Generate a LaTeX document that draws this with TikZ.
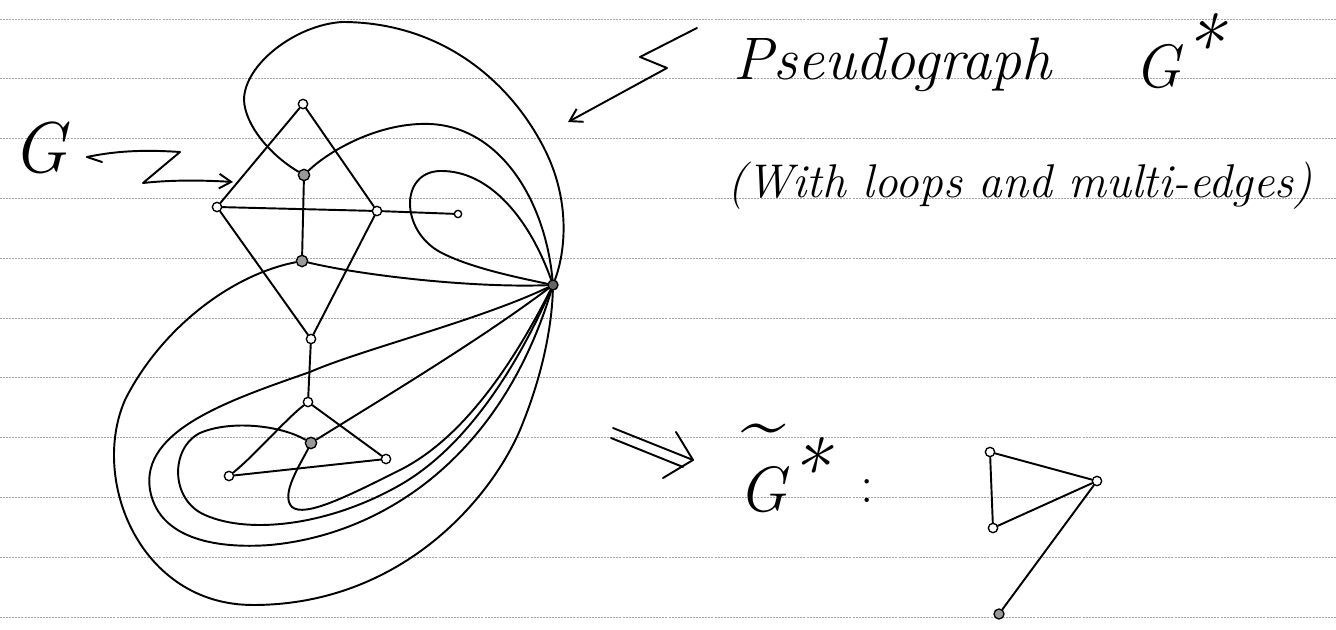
\documentclass[tikz,border=0pt]{standalone}
\usepackage{fontspec}
\usetikzlibrary{arrows.meta}

\tikzset{every picture/.style={line width=0.75pt}}
\tikzset{
  pen/.style={line width=1.45pt,line cap=round,line join=round},
  ruled/.style={color=black!35,line width=0.6pt,dash pattern=on 1.5pt off 0.8pt},
  vertex/.style={circle,draw,fill=white,line width=1pt,inner sep=0pt,minimum size=7pt},
  facevertex/.style={circle,draw,fill=black!40,line width=1pt,inner sep=0pt,minimum size=8.5pt},
  barb/.style={-{Straight Barb[length=9pt,width=11pt]}},
  handbig/.style={font=\fontsize{45}{50}\selectfont\itshape,inner sep=0pt,anchor=base west},
  handsmall/.style={font=\fontsize{35.5}{40}\selectfont\itshape,inner sep=0pt,anchor=base west},
  handletter/.style={inner sep=0pt,anchor=base west},
}
\newcommand{\handstar}{\raisebox{0.2em}{\fontsize{62}{62}\selectfont *}}

\begin{document}
\begin{tikzpicture}[x=0.75pt,y=0.75pt,yscale=-1,xscale=1]
\useasboundingbox (0,0) rectangle (1336,630);

%Ruled paper
\foreach \k in {0,...,10}
  \draw [ruled] (0,{19+59.8*\k}) -- (1336,{19+59.8*\k});

%Vertices of G
\node [vertex] (vT) at (303,104) {};
\node [vertex] (vL) at (217,207) {};
\node [vertex] (vR) at (377,211) {};
\node [vertex,minimum size=5.5pt] (vP) at (458,214) {};
\node [vertex] (vD) at (311,339) {};
\node [vertex] (vE) at (308,402) {};
\node [vertex] (vH) at (229,476) {};
\node [vertex] (vK) at (386,459) {};
%Vertices of G*
\node [facevertex] (fA) at (304,175) {};
\node [facevertex] (fB) at (302,261) {};
\node [facevertex] (fF) at (311,443) {};
\node [facevertex,fill=black!60,minimum size=7.5pt] (fO) at (553,285) {};

%Straight Lines
\draw [pen] (vT) -- (vL) -- (vR) -- (vT);
\draw [pen] (vL) -- (vD) -- (vR);
\draw [pen] (vR) -- (vP);
\draw [pen] (vD) -- (vE) -- (vK) -- (vH);
%Curve Lines
\draw [pen] (vE) .. controls (285,420) and (255,455) .. (vH);

%Straight Lines
\draw [pen] (fA) -- (fB);
%Curve Lines
\draw [pen] (fA) .. controls (270,155) and (245,125) .. (244,100) .. controls (244,65) and (295,25) .. (342,22) .. controls (440,22) and (510,80) .. (545,150) .. controls (570,200) and (566,250) .. (fO);
%Curve Lines
\draw [pen] (fA) .. controls (330,150) and (380,122) .. (430,124) .. controls (500,127) and (545,200) .. (fO);
%Curve Lines
\draw [pen] (fO) .. controls (530,220) and (490,170) .. (440,171) .. controls (400,172) and (400,230) .. (440,252) .. controls (470,268) and (520,278) .. (fO);
%Curve Lines
\draw [pen] (fB) .. controls (360,275) and (470,288) .. (fO);
%Curve Lines
\draw [pen] (fB) .. controls (230,275) and (160,330) .. (125,400) .. controls (90,480) and (140,605) .. (253,605) .. controls (400,605) and (490,500) .. (520,430) .. controls (545,370) and (552,320) .. (fO);
%Curve Lines
\draw [pen] (fO) .. controls (480,320) and (360,350) .. (310,372) .. controls (230,400) and (140,430) .. (150,490) .. controls (160,545) and (230,548) .. (270,545) .. controls (380,535) and (500,460) .. (fO);
%Curve Lines
\draw [pen] (fF) .. controls (280,425) and (230,420) .. (200,433) .. controls (170,448) and (170,500) .. (205,515) .. controls (250,535) and (330,525) .. (400,485) .. controls (470,445) and (520,360) .. (fO);
%Curve Lines
\draw [pen] (fF) .. controls (300,465) and (280,495) .. (292,507) .. controls (305,518) and (350,495) .. (400,470) .. controls (460,440) and (510,370) .. (fO);
%Curve Lines
\draw [pen] (fF) .. controls (380,400) and (480,340) .. (fO);

%Vertices of the simple graph
\node [vertex] (tA) at (990,452) {};
\node [vertex] (tO) at (1097,481) {};
\node [vertex] (tB) at (993,528) {};
\node [facevertex,minimum size=7.5pt] (tF) at (999,614) {};
%Straight Lines
\draw [pen] (tA) -- (tO) -- (tB) -- (tA);
\draw [pen] (tO) -- (tF);

% Text Node
\node [handletter,font=\fontsize{54}{60}\selectfont\itshape] (Glabel) at (12,173) {G};
% Text Node
\node [handbig] (pseudo) at (733,80) {Pseudograph};
% Text Node
\node [handletter,font=\fontsize{46}{52}\selectfont\itshape] (Gstar) at (1134,88) {G\handstar};
% Text Node
\node [handsmall] (loops) at (727,198) {(With loops and multi-edges)};
% Text Node
\node [handletter,font=\fontsize{48}{54}\selectfont\itshape] (Gtilde) at (738,512) {G\handstar};
% Text Node
\node [inner sep=0pt,font=\fontsize{60}{60}\selectfont] (tildemark) at (764,436) {\textasciitilde};
% Text Node
\node [handletter,font=\fontsize{40}{46}\selectfont] (colon) at (860,503) {:};

%Zigzag arrows
\coordinate (gzA) at (87,157);
\coordinate (gzB) at (233,182);
\draw [pen] (gzA) -- ++(15,5);
\draw [pen,barb] (gzA) .. controls (120,150) and (150,150) .. (180,152) -- (143,183) .. controls (170,180) and (200,180) .. (gzB);
\coordinate (psA) at (697,28);
\coordinate (psB) at (568,122);
\draw [pen,barb] (psA) -- (640,57) -- (667,68) -- (psB);

%Double arrow
\coordinate (imA) at (613,428);
\coordinate (imB) at (611,438);
\coordinate (imTip) at (693,460);
\draw [pen] (imA) -- (imTip);
\draw [pen] (imB) -- (683,467);
\draw [pen] (676,432) -- (imTip) -- (663,478);

\end{tikzpicture}
\end{document}
